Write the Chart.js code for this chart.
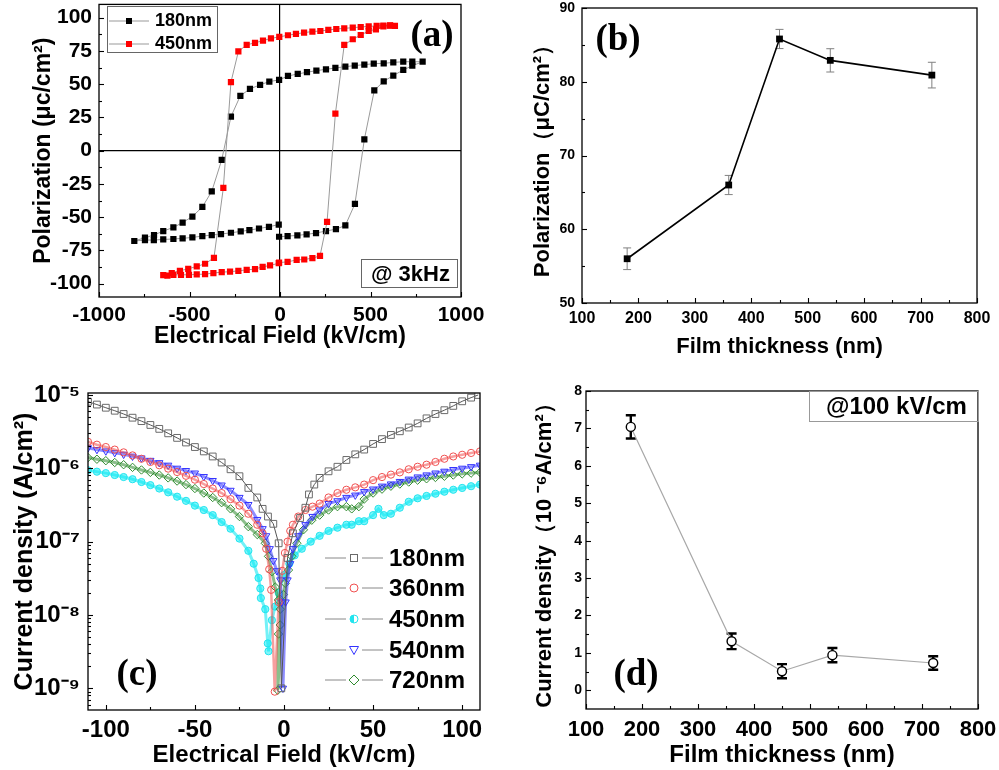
<!DOCTYPE html>
<html>
<head>
<meta charset="utf-8">
<script src="https://cdn.jsdelivr.net/npm/chart.js@4.4.1/dist/chart.umd.min.js"></script>
<style>
body{margin:0;background:#fff;width:999px;height:770px;overflow:hidden;position:relative;font-family:"Liberation Sans",Arial,sans-serif;font-weight:bold;color:#000}
canvas{position:absolute}
.tag{position:absolute;transform:translate(-50%,-50%);font-family:"Liberation Serif","Times New Roman",serif;font-weight:bold;font-size:37px;line-height:1}
.box{position:absolute;border:1px solid #666;box-sizing:border-box}
.row{position:absolute;display:flex;align-items:center;white-space:nowrap}
.row svg{display:block}
</style>
</head>
<body>
<canvas id="pa" width="495" height="350" style="left:0;top:0"></canvas>
<canvas id="pb" width="499" height="360" style="left:500px;top:0"></canvas>
<canvas id="pc" width="495" height="390" style="left:0;top:380px"></canvas>
<canvas id="pd" width="499" height="390" style="left:500px;top:380px"></canvas>

<!-- panel (a) notes -->
<div class="box" style="left:107px;top:6px;width:111px;height:47px"></div>
<div class="row" style="left:109px;top:10px;font-size:18px">
  <svg width="40" height="18"><line x1="0" y1="9" x2="40" y2="9" stroke="#999" stroke-width="1"/><rect x="17" y="6" width="6" height="6" fill="#000"/></svg>
  <span style="margin-left:6px">180nm</span></div>
<div class="row" style="left:109px;top:33px;font-size:18px">
  <svg width="40" height="18"><line x1="0" y1="9" x2="40" y2="9" stroke="#999" stroke-width="1"/><rect x="17" y="6" width="6" height="6" fill="#f00"/></svg>
  <span style="margin-left:6px">450nm</span></div>
<div class="tag" style="left:432px;top:33px">(a)</div>
<div class="box" style="left:361px;top:259px;width:97px;height:29px"></div>
<div class="row" style="left:371px;top:261px;font-size:22px">@ 3kHz</div>

<!-- panel (b) -->
<div class="tag" style="left:618px;top:37px">(b)</div>

<!-- panel (c) -->
<div class="tag" style="left:137px;top:672px">(c)</div>
<div id="legc"></div>

<!-- panel (d) -->
<div class="tag" style="left:636px;top:672px">(d)</div>
<div class="box" style="left:809px;top:391px;width:170px;height:31px;border-color:#999"></div>
<div class="row" style="left:826px;top:392px;font-size:24px">@100 kV/cm</div>

<script>
// (a) P-E hysteresis loops, field in kV/cm, polarization in uC/cm2
const eA180 = [-5, 42, 96, 147, 199, 254, 309, 361, 414, 466, 521, 573, 626, 681, 731, 788,
  731, 681, 626, 573, 518, 466, 413, 361, 306, 254, 201, 149, 98, 44, -5, -59, -110, -166, -219,
  -271, -322, -377, -429, -484, -538, -589, -645, -696, -746, -805,
  -746, -697, -645, -589, -538, -484, -429, -377, -326, -271, -217, -169, -116, -61, -7];
const pA180 = [-64.7, -64.2, -63.7, -62.9, -61.9, -60.4, -59, -56.2, -40, 8.5, 45.3, 52.2, 56.5, 60.7, 63.9, 66.9,
  66.9, 66.9, 66.4, 65.7, 65.4, 64.7, 64, 63.2, 62.2, 61.2, 60.2, 59, 57.7, 56.2, 53.2, 52, 49.5, 46.5, 41.3,
  25.6, -6.9, -30.6, -42.3, -49.5, -54, -57.7, -60.4, -63.4, -65.4, -67.9,
  -67.2, -67.2, -66.7, -66.4, -65.9, -65.2, -64.2, -63.4, -62.7, -61.7, -60.7, -59.7, -58.5, -57.2, -55.5];
const eA450 = [-5, 42, 92, 134, 179, 221, 260, 306, 355, 402, 446, 490, 530, 571, 608, 635,
  608, 571, 534, 490, 446, 402, 355, 311, 267, 223, 179, 133, 88, 44, -4, -50, -94, -138, -184, -230,
  -271, -313, -365, -414, -460, -507, -553, -598, -645,
  -622, -589, -547, -503, -460, -414, -368, -322, -276, -230, -184, -138, -96, -55, -7];
const pA450 = [-84.1, -83.6, -82.1, -81.8, -80.8, -79.1, -53.5, 27.8, 79.6, 83.8, 87, 90, 91.3, 93.5, 94, 93.8,
  94.2, 94, 93.8, 93.5, 93, 92.5, 92, 91.5, 90.8, 90, 89.6, 88.8, 87.8, 86.8, 85.6, 84.4, 82.8, 81.1, 79.6, 74.6,
  51.5, -27.9, -80.6, -85, -87, -88.8, -90.3, -92, -93.5,
  -94, -93.3, -93.3, -93.3, -93, -92.8, -92, -91.3, -91, -90.3, -89.6, -89, -87.3, -86.3, -84.6];
const xTicksA = [-1000, -500, 0, 500, 1000];
const yTicksA = [-100, -75, -50, -25, 0, 25, 50, 75, 100];

// (b) remanent polarization vs film thickness
const thickness = [180, 360, 450, 540, 720];
const polB = [56, 66, 85.8, 82.9, 80.9];
const errB = [1.47, 1.3, 1.3, 1.58, 1.74];
const xTicksBD = [100, 200, 300, 400, 500, 600, 700, 800];
const yTicksB = [50, 60, 70, 80, 90];

// (c) leakage current density vs field (kV/cm, A/cm2)
const fieldLeft = [-110, -105, -100, -95, -90, -85, -80, -75, -70, -65, -60, -55, -50, -45, -40, -35, -30, -25, -20];
const fieldRight = [25, 30, 35, 40, 45, 50, 55, 60, 65, 70, 75, 80, 85, 90, 95, 100, 105, 110];
const c180E = fieldLeft.concat([-15, -12, -9, -6, -3, -1.5, 2, 5, 9, 12, 14, 17, 20],
  [25, 30, 35, 40, 45, 50, 55, 60, 65, 70, 75, 80, 85, 90, 95, 100, 105, 109]);
const c180J = [8.1e-6, 7.4e-6, 6.7e-6, 6.1e-6, 5.5e-6, 4.9e-6, 4.4e-6, 3.9e-6, 3.45e-6, 3.0e-6, 2.6e-6, 2.25e-6,
  1.95e-6, 1.7e-6, 1.45e-6, 1.2e-6, 9.7e-7, 7.8e-7, 5.4e-7,
  4.0e-7, 2.8e-7, 2.2e-7, 1.75e-7, 9.5e-8, 1e-9, 6e-8, 1.3e-7, 2.1e-7, 2.9e-7, 4.4e-7, 6.0e-7, 7.4e-7,
  9.1e-7, 1.05e-6, 1.3e-6, 1.55e-6, 1.8e-6, 2.15e-6, 2.5e-6, 2.85e-6, 3.2e-6, 3.6e-6, 4.1e-6, 4.8e-6,
  5.5e-6, 6.2e-6, 7.1e-6, 8.2e-6, 9.2e-6, 1.0e-5];
const c360E = fieldLeft.concat([-15, -12, -10, -8.3, -7.2, -5.2, -3, -1, 0.5, 2, 3.5, 5, 8, 12, 16, 20], fieldRight);
const c360J = [2.3e-6, 2.1e-6, 1.95e-6, 1.8e-6, 1.65e-6, 1.5e-6, 1.35e-6, 1.22e-6, 1.1e-6, 9.9e-7, 8.9e-7, 7.9e-7,
  7.0e-7, 6.1e-7, 5.3e-7, 4.6e-7, 3.8e-7, 3.1e-7, 2.4e-7,
  1.7e-7, 1.3e-7, 8e-8, 4.2e-8, 2.2e-8, 9e-10, 1.5e-8, 4e-8, 7e-8, 1.0e-7, 1.4e-7, 1.7e-7, 2.2e-7, 2.7e-7, 3.0e-7, 3.3e-7,
  4.0e-7, 4.6e-7, 5.1e-7, 5.5e-7, 6.0e-7, 6.9e-7, 7.6e-7, 8.2e-7, 8.8e-7, 9.7e-7, 1.05e-6, 1.12e-6, 1.22e-6,
  1.35e-6, 1.45e-6, 1.53e-6, 1.62e-6, 1.7e-6];
const c450E = fieldLeft.concat([-17, -14.3, -13.3, -13, -10.5, -9.1, -8.7, -6.8, -5, -3, 0, 3, 6, 10, 15, 20,
  25, 30, 35, 38, 42, 45, 50, 53, 56, 60, 65, 70, 75, 80, 85, 90, 95, 100, 105, 110]);
const c450J = [9.4e-7, 9.0e-7, 8.6e-7, 8.1e-7, 7.6e-7, 7.1e-7, 6.5e-7, 5.9e-7, 5.3e-7, 4.7e-7, 4.1e-7, 3.6e-7,
  3.1e-7, 2.7e-7, 2.3e-7, 1.85e-7, 1.5e-7, 1.1e-7, 7.5e-8,
  5e-8, 3.2e-8, 2.3e-8, 1.7e-8, 1.2e-8, 4.1e-9, 3.2e-9, 8.5e-9, 1.3e-8, 2e-8, 3.5e-8, 5e-8, 6.5e-8, 8e-8, 1.0e-7, 1.2e-7,
  1.4e-7, 1.55e-7, 1.7e-7, 1.7e-7, 1.9e-7, 1.9e-7, 2.3e-7, 2.8e-7, 2.3e-7, 2.4e-7, 2.9e-7, 3.5e-7, 3.9e-7,
  4.2e-7, 4.5e-7, 4.8e-7, 5.1e-7, 5.4e-7, 5.7e-7, 6.0e-7];
const c540E = fieldLeft.concat([-15, -12, -10, -8, -6, -4, -2.1, -1.2, -0.6, 0.9, 2, 3.5, 5, 8, 12, 16, 20], fieldRight);
const c540J = [1.9e-6, 1.8e-6, 1.72e-6, 1.63e-6, 1.55e-6, 1.46e-6, 1.38e-6, 1.28e-6, 1.19e-6, 1.1e-6, 1.0e-6, 9.3e-7,
  8.6e-7, 7.7e-7, 6.8e-7, 5.9e-7, 5.0e-7, 4.0e-7, 3.2e-7,
  2.0e-7, 1.5e-7, 1.2e-7, 8e-8, 5.5e-8, 4e-8, 3e-8, 1.5e-8, 1e-9, 1.5e-8, 3e-8, 5e-8, 8e-8, 1.2e-7, 1.7e-7, 2.2e-7, 2.7e-7,
  3.3e-7, 3.6e-7, 4.0e-7, 4.3e-7, 4.8e-7, 5.2e-7, 5.7e-7, 6.1e-7, 6.6e-7, 7.1e-7, 7.6e-7, 8.1e-7, 8.6e-7,
  9.1e-7, 9.6e-7, 1.0e-6, 1.05e-6, 1.1e-6];
const c720E = fieldLeft.concat([-15, -10.5, -8.7, -6.8, -4.9, -3.1, -2.1, -2.1, -3.1, -3.5, -0.3, 0.7, 2.5, 4.4, 7.2,
  10.9, 15.6, 20, 25, 30, 35, 38, 42, 45, 50, 55, 60, 65, 70, 75, 80, 85, 90, 95, 100, 105, 110]);
const c720J = [1.4e-6, 1.33e-6, 1.27e-6, 1.2e-6, 1.12e-6, 1.03e-6, 9.5e-7, 8.8e-7, 8.1e-7, 7.4e-7, 6.7e-7, 6.0e-7,
  5.3e-7, 4.6e-7, 4.0e-7, 3.4e-7, 2.8e-7, 2.2e-7, 1.6e-7,
  1.25e-7, 9.5e-8, 6.3e-8, 3.9e-8, 2.4e-8, 1.6e-8, 1.2e-8, 7.3e-9, 5.5e-9, 9.4e-10, 1.9e-8, 2.7e-8, 4.1e-8, 6.3e-8, 9.5e-8,
  1.45e-7, 1.96e-7, 2.3e-7, 2.7e-7, 3.0e-7, 3.0e-7, 2.8e-7, 3.0e-7, 3.8e-7, 4.6e-7, 5.2e-7, 5.7e-7, 6.1e-7,
  6.5e-7, 6.9e-7, 7.2e-7, 7.5e-7, 7.8e-7, 8.1e-7, 8.4e-7, 8.6e-7, 8.8e-7];
const seriesC = ['180nm', '360nm', '450nm', '540nm', '720nm'];
const xTicksC = [-100, -50, 0, 50, 100];
const yTicksC = [1e-9, 1e-8, 1e-7, 1e-6, 1e-5];
const yLabelsC = ['10\u207B\u2079', '10\u207B\u2078', '10\u207B\u2077', '10\u207B\u2076', '10\u207B\u2075'];

// (d) current density at 100 kV/cm
const jD = [7.04, 1.31, 0.51, 0.94, 0.73];
const errD = [0.31, 0.21, 0.19, 0.19, 0.18];
const yTicksD = [0, 1, 2, 3, 4, 5, 6, 7, 8];

const FONT = '"Liberation Sans", Arial, sans-serif';
Chart.defaults.font.family = FONT;
Chart.defaults.font.weight = 'bold';
Chart.defaults.color = '#000';
Chart.defaults.animation = false;

const pts = (xs, ys) => xs.map((x, i) => ({x: x, y: ys[i]}));
const mids = t => t.slice(1).map((v, i) => (v + t[i]) / 2);

// box round the plot and inward tick marks
const frame = {
  id: 'frame',
  afterDraw(chart, args, o) {
    const {ctx, chartArea: a, scales} = chart;
    ctx.save();
    ctx.strokeStyle = '#000';
    ctx.lineWidth = 1.3;
    ctx.strokeRect(a.left, a.top, a.right - a.left, a.bottom - a.top);
    ctx.lineWidth = 1.1;
    const mark = (s, v, len) => {
      const p = Math.round(s.getPixelForValue(v)) + 0.5;
      ctx.beginPath();
      if (s.isHorizontal()) { ctx.moveTo(p, a.bottom); ctx.lineTo(p, a.bottom - len); }
      else { ctx.moveTo(a.left, p); ctx.lineTo(a.left + len, p); }
      ctx.stroke();
    };
    ['x', 'y'].forEach(id => {
      const s = scales[id];
      s.ticks.forEach(t => mark(s, t.value, 5));
      (o[id + 'Minor'] || []).forEach(v => mark(s, v, 3));
    });
    ctx.restore();
  }
};

const errorBars = {
  id: 'errorBars',
  beforeDatasetsDraw(chart, args, o) {
    if (!o.values) return;
    const ctx = chart.ctx, ys = chart.scales.y;
    const data = chart.data.datasets[0].data;
    ctx.save();
    ctx.strokeStyle = o.color;
    ctx.lineWidth = o.width;
    chart.getDatasetMeta(0).data.forEach((pt, i) => {
      const y1 = ys.getPixelForValue(data[i].y + o.values[i]);
      const y2 = ys.getPixelForValue(data[i].y - o.values[i]);
      ctx.beginPath();
      ctx.moveTo(pt.x, y1); ctx.lineTo(pt.x, y2);
      ctx.moveTo(pt.x - o.cap, y1); ctx.lineTo(pt.x + o.cap, y1);
      ctx.moveTo(pt.x - o.cap, y2); ctx.lineTo(pt.x + o.cap, y2);
      ctx.stroke();
    });
    ctx.restore();
  }
};

function axis(o) {
  return {
    type: o.type || 'linear',
    min: o.min, max: o.max,
    afterBuildTicks: s => { s.ticks = o.ticks.map(v => ({value: v})); },
    afterFit: s => {
      if (s.isHorizontal()) s.height = o.size; else s.width = o.size;
      // keep labels at the ends from pushing the plot area in
      s.paddingTop = s.paddingBottom = s.paddingLeft = s.paddingRight = 0;
    },
    grid: {
      display: !!o.zero, drawTicks: false, lineWidth: 1.2,
      color: c => (c.tick && c.tick.value === 0) ? '#000' : 'rgba(0,0,0,0)'
    },
    border: {display: false},
    ticks: {
      autoSkip: false, maxRotation: 0, padding: o.pad, color: '#000',
      font: {size: o.font, weight: 'bold'},
      callback: o.labels ? (v, i) => o.labels[i] : v => String(v)
    },
    title: {
      display: true, text: o.title, color: '#000',
      font: {size: o.tfont, weight: 'bold', lineHeight: 1.2},
      padding: {top: o.tpad, bottom: 0}
    }
  };
}

function base(pad, scales, plugins) {
  return {
    responsive: false, animation: false, devicePixelRatio: 1,
    layout: {padding: {top: pad[0], right: pad[1], bottom: 0, left: 0}},
    scales: scales,
    plugins: Object.assign({legend: {display: false}, tooltip: {enabled: false}}, plugins)
  };
}

// (a)
new Chart(document.getElementById('pa'), {
  type: 'scatter',
  data: {datasets: [
    {data: pts(eA450, pA450), showLine: true, borderColor: '#9a9a9a', borderWidth: 1,
     pointStyle: 'rect', pointRadius: 4.4, pointBackgroundColor: '#ff0000', pointBorderColor: '#ff0000', pointBorderWidth: 0},
    {data: pts(eA180, pA180), showLine: true, borderColor: '#9a9a9a', borderWidth: 1,
     pointStyle: 'rect', pointRadius: 4.4, pointBackgroundColor: '#000', pointBorderColor: '#000', pointBorderWidth: 0}
  ]},
  options: base([3, 34], {
    x: axis({min: -1000, max: 1000, ticks: xTicksA, size: 53, pad: 6, font: 21, zero: true,
             title: 'Electrical Field (kV/cm)', tfont: 23, tpad: 3}),
    y: axis({min: -110, max: 110, ticks: yTicksA, size: 99, pad: 7, font: 21, zero: true,
             title: 'Polarization (\u03BCc/cm\u00B2)', tfont: 23, tpad: 30})
  }, {frame: {xMinor: mids(xTicksA), yMinor: mids(yTicksA)}}),
  plugins: [frame]
});

// (b)
new Chart(document.getElementById('pb'), {
  type: 'scatter',
  data: {datasets: [
    {data: pts(thickness, polB), showLine: true, borderColor: '#000', borderWidth: 1.6,
     pointStyle: 'rect', pointRadius: 4.8, pointBackgroundColor: '#000', pointBorderColor: '#000', pointBorderWidth: 0}
  ]},
  options: base([8, 22], {
    x: axis({min: 100, max: 800, ticks: xTicksBD, size: 57, pad: 6, font: 16,
             title: 'Film thickness (nm)', tfont: 22, tpad: 7}),
    y: axis({min: 50, max: 90, ticks: yTicksB, size: 82, pad: 7, font: 14,
             title: 'Polarization\uFF08\u03BCC/cm\u00B2\uFF09', tfont: 22, tpad: 30})
  }, {frame: {xMinor: mids(xTicksBD), yMinor: mids(yTicksB)},
      errorBars: {values: errB, color: '#808080', width: 1, cap: 4}}),
  plugins: [frame, errorBars]
});

// (c)
const logMinor = [];
for (let d = -10; d <= -5; d++) for (let k = 2; k <= 9; k++) logMinor.push(k * Math.pow(10, d));
const lineC = (c, w) => ({showLine: true, borderColor: c, borderWidth: w});
new Chart(document.getElementById('pc'), {
  type: 'scatter',
  data: {datasets: [
    Object.assign({label: seriesC[0], data: pts(c180E, c180J), pointStyle: 'rect', pointRadius: 4.8,
      pointBackgroundColor: 'rgba(255,255,255,0)', pointBorderColor: '#6a6a6a', pointBorderWidth: 1}, lineC('#555', 1)),
    Object.assign({label: seriesC[1], data: pts(c360E, c360J), pointStyle: 'circle', pointRadius: 3.6,
      pointBackgroundColor: 'rgba(255,255,255,0)', pointBorderColor: '#f05050', pointBorderWidth: 1}, lineC('rgba(240,80,80,0.55)', 2.5)),
    Object.assign({label: seriesC[3], data: pts(c540E, c540J), pointStyle: 'triangle', rotation: 180, pointRadius: 4.2,
      pointBackgroundColor: 'rgba(255,255,255,0)', pointBorderColor: '#3232ff', pointBorderWidth: 1}, lineC('rgba(50,50,255,0.55)', 3)),
    Object.assign({label: seriesC[4], data: pts(c720E, c720J), pointStyle: 'rectRot', pointRadius: 4.2,
      pointBackgroundColor: 'rgba(255,255,255,0)', pointBorderColor: '#2e8b2e', pointBorderWidth: 1}, lineC('rgba(46,139,46,0.55)', 3)),
    Object.assign({label: seriesC[2], data: pts(c450E, c450J), pointStyle: 'circle', pointRadius: 3.6,
      pointBackgroundColor: 'rgba(0,235,245,0.5)', pointBorderColor: '#22e4ee', pointBorderWidth: 1}, lineC('rgba(0,230,240,0.55)', 3))
  ]},
  options: base([13, 15], {
    x: axis({min: -110, max: 110, ticks: xTicksC, size: 60, pad: 6, font: 24,
             title: 'Electrical Field (kV/cm)', tfont: 24, tpad: 1}),
    y: axis({type: 'logarithmic', min: 5.06e-10, max: 1.064e-5, ticks: yTicksC, labels: yLabelsC, size: 88, pad: 8, font: 24,
             title: 'Current density (A/cm\u00B2)', tfont: 25, tpad: 10})
  }, {frame: {xMinor: mids(xTicksC), yMinor: logMinor.filter(v => v > 5.06e-10 && v < 1.064e-5)}}),
  plugins: [frame]
});

// (d)
new Chart(document.getElementById('pd'), {
  type: 'scatter',
  data: {datasets: [
    {data: pts(thickness, jD), showLine: true, borderColor: '#a8a8a8', borderWidth: 1.2,
     pointStyle: 'circle', pointRadius: 4.5, pointBackgroundColor: '#fff', pointBorderColor: '#000', pointBorderWidth: 1.4}
  ]},
  options: base([11, 21], {
    x: axis({min: 100, max: 800, ticks: xTicksBD, size: 61, pad: 8, font: 22,
             title: 'Film thickness (nm)', tfont: 24, tpad: 7}),
    y: axis({min: -0.5, max: 8, ticks: yTicksD, size: 86, pad: 4, font: 14,
             title: 'Current density\uFF0810 \u207B\u2076A/cm\u00B2\uFF09', tfont: 22, tpad: 32})
  }, {frame: {xMinor: mids(xTicksBD), yMinor: mids(yTicksD)},
      errorBars: {values: errD, color: '#000', width: 2.4, cap: 5}}),
  plugins: [frame, errorBars]
});

// legend of (c)
const legRows = [
  {y: 558, m: '<rect x="2.5" y="2.5" width="7" height="7" fill="none" stroke="#6a6a6a"/>'},
  {y: 588, m: '<circle cx="6" cy="6" r="4" fill="none" stroke="#f05050"/>'},
  {y: 619, m: '<circle cx="6" cy="6" r="4" fill="none" stroke="#22e4ee"/><path d="M6 2 A4 4 0 0 0 6 10 Z" fill="#22e4ee"/>'},
  {y: 650, m: '<path d="M1.5 2.5 L10.5 2.5 L6 10.5 Z" fill="none" stroke="#3232ff"/>'},
  {y: 680, m: '<path d="M6 1 L11 6 L6 11 L1 6 Z" fill="none" stroke="#2e8b2e"/>'}
];
document.getElementById('legc').innerHTML = legRows.map((r, i) =>
  '<div class="row" style="left:325px;top:' + (r.y - 14) + 'px;font-size:24px;height:28px">' +
  '<svg width="58" height="12"><line x1="0" y1="6" x2="21" y2="6" stroke="#888"/><line x1="37" y1="6" x2="58" y2="6" stroke="#888"/>' +
  '<g transform="translate(23,0)">' + r.m + '</g></svg><span style="margin-left:6px">' + seriesC[i] + '</span></div>').join('');
</script>
</body>
</html>
